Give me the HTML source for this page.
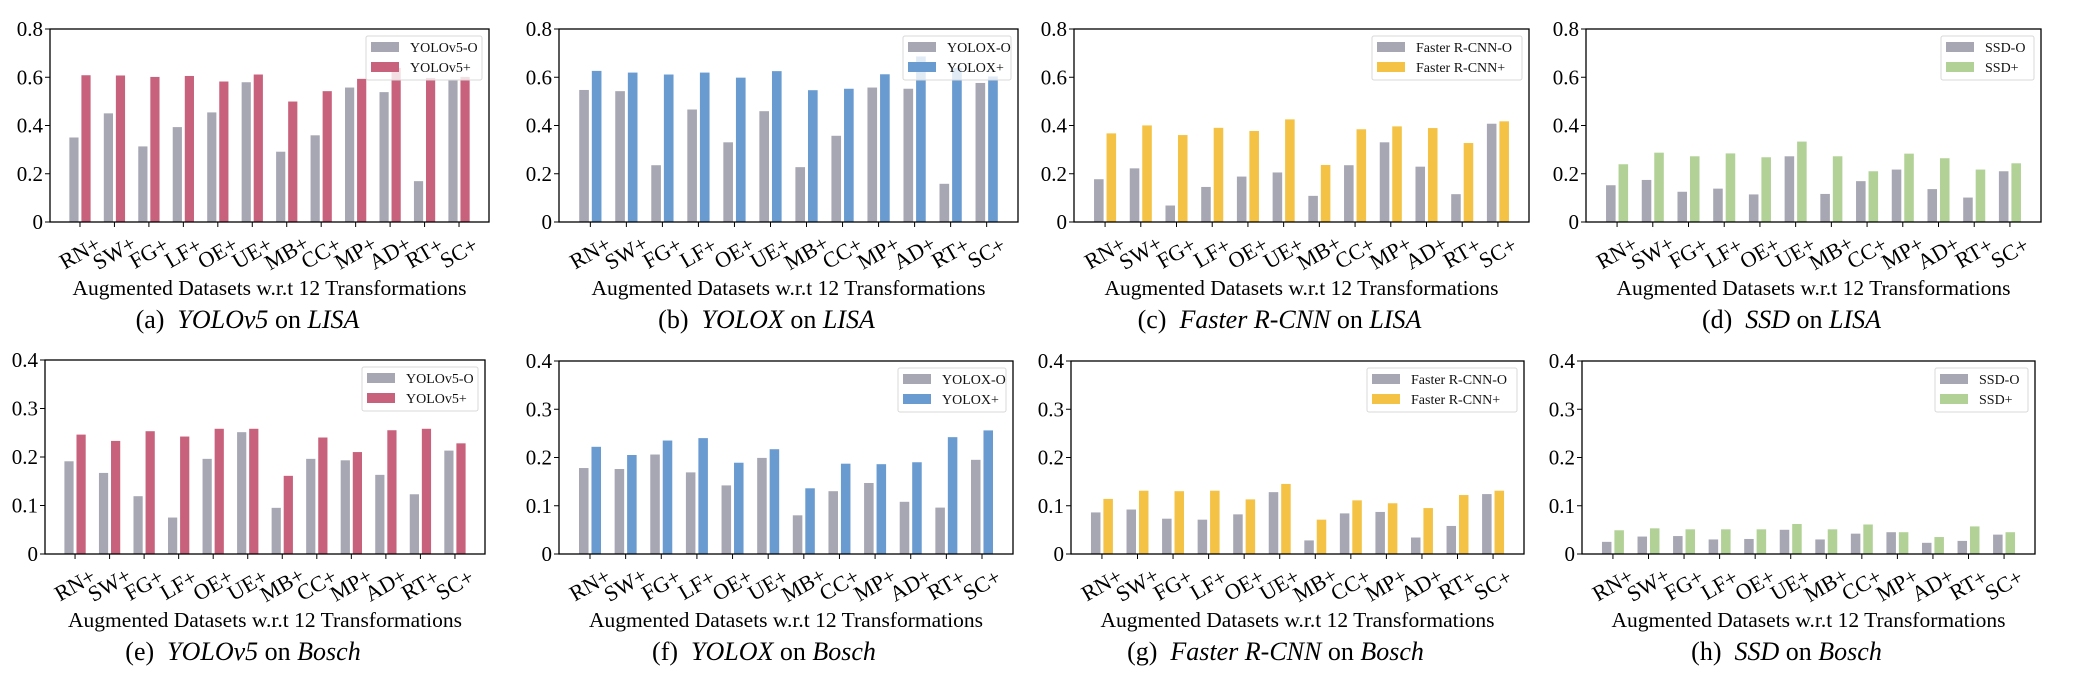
<!DOCTYPE html>
<html><head><meta charset="utf-8">
<style>
html,body{margin:0;padding:0;background:#fff;}
svg{display:block;font-family:"Liberation Serif","DejaVu Serif",serif;}
</style></head>
<body>
<svg id="fig" width="2074" height="674" viewBox="0 0 2074 674"></svg>
<script>
const categories = ["RN+","SW+","FG+","LF+","OE+","UE+","MB+","CC+","MP+","AD+","RT+","SC+"];
const yTicksTop = [0,0.2,0.4,0.6,0.8];
const yTickLabelsTop = ["0","0.2","0.4","0.6","0.8"];
const yTicksBot = [0,0.1,0.2,0.3,0.4];
const yTickLabelsBot = ["0","0.1","0.2","0.3","0.4"];

const aOrig = [0.352,0.452,0.315,0.395,0.456,0.581,0.293,0.361,0.559,0.540,0.171,0.588];
const aPlus = [0.610,0.609,0.603,0.607,0.584,0.613,0.501,0.544,0.595,0.640,0.599,0.603];
const bOrig = [0.549,0.544,0.237,0.468,0.332,0.461,0.229,0.359,0.559,0.554,0.160,0.578];
const bPlus = [0.628,0.621,0.613,0.621,0.600,0.627,0.548,0.554,0.614,0.688,0.640,0.605];
const cOrig = [0.179,0.224,0.070,0.147,0.190,0.207,0.110,0.237,0.332,0.231,0.117,0.409];
const cPlus = [0.369,0.402,0.362,0.392,0.379,0.427,0.238,0.386,0.398,0.391,0.329,0.419];
const dOrig = [0.154,0.176,0.127,0.140,0.116,0.274,0.118,0.171,0.219,0.138,0.103,0.212];
const dPlus = [0.241,0.289,0.274,0.286,0.270,0.335,0.274,0.212,0.285,0.266,0.219,0.245];
const eOrig = [0.192,0.168,0.120,0.076,0.197,0.252,0.096,0.197,0.194,0.164,0.124,0.214];
const ePlus = [0.247,0.234,0.254,0.243,0.259,0.259,0.162,0.241,0.211,0.256,0.259,0.229];
const fOrig = [0.179,0.177,0.207,0.170,0.143,0.200,0.081,0.131,0.148,0.109,0.097,0.196];
const fPlus = [0.223,0.206,0.236,0.241,0.190,0.218,0.137,0.188,0.187,0.191,0.243,0.257];
const gOrig = [0.087,0.093,0.074,0.072,0.083,0.129,0.029,0.085,0.088,0.035,0.059,0.125];
const gPlus = [0.115,0.132,0.131,0.132,0.114,0.146,0.072,0.112,0.106,0.096,0.123,0.132];
const hOrig = [0.026,0.037,0.038,0.031,0.032,0.051,0.031,0.043,0.046,0.024,0.028,0.041];
const hPlus = [0.050,0.054,0.052,0.052,0.052,0.063,0.052,0.062,0.046,0.036,0.058,0.046];

const GREY = "#a7a7b4";
const NS = "http://www.w3.org/2000/svg";
const svg = document.getElementById("fig");

function mk(tag, attrs, parent){
  const e = document.createElementNS(NS, tag);
  for (const k in attrs) e.setAttribute(k, attrs[k]);
  (parent||svg).appendChild(e);
  return e;
}

const panels = [
  {id:"a",x0:50,x1:489,y0:29,y1:222,orig:aOrig,plus:aPlus,color:"#c8617b",names:["YOLOv5-O","YOLOv5+"],lw:116,model:"YOLOv5",ds:"LISA",top:true},
  {id:"b",x0:559,x1:1018,y0:29,y1:222,orig:bOrig,plus:bPlus,color:"#6a9bd0",names:["YOLOX-O","YOLOX+"],lw:108,model:"YOLOX",ds:"LISA",top:true},
  {id:"c",x0:1074,x1:1529,y0:29,y1:222,orig:cOrig,plus:cPlus,color:"#f4c244",names:["Faster R-CNN-O","Faster R-CNN+"],lw:150,model:"Faster R-CNN",ds:"LISA",top:true},
  {id:"d",x0:1586,x1:2041,y0:29,y1:222,orig:dOrig,plus:dPlus,color:"#b2d197",names:["SSD-O","SSD+"],lw:93,model:"SSD",ds:"LISA",top:true},
  {id:"e",x0:45,x1:485,y0:360,y1:554,orig:eOrig,plus:ePlus,color:"#c8617b",names:["YOLOv5-O","YOLOv5+"],lw:116,model:"YOLOv5",ds:"Bosch",top:false},
  {id:"f",x0:559,x1:1013,y0:361,y1:554,orig:fOrig,plus:fPlus,color:"#6a9bd0",names:["YOLOX-O","YOLOX+"],lw:108,model:"YOLOX",ds:"Bosch",top:false},
  {id:"g",x0:1071,x1:1524,y0:361,y1:554,orig:gOrig,plus:gPlus,color:"#f4c244",names:["Faster R-CNN-O","Faster R-CNN+"],lw:150,model:"Faster R-CNN",ds:"Bosch",top:false},
  {id:"h",x0:1582,x1:2035,y0:361,y1:554,orig:hOrig,plus:hPlus,color:"#b2d197",names:["SSD-O","SSD+"],lw:93,model:"SSD",ds:"Bosch",top:false}
];

panels.forEach(p => {
  const g = mk("g", {});
  
  
  const ticks = p.top ? yTicksTop : yTicksBot;
  const tickLabels = p.top ? yTickLabelsTop : yTickLabelsBot;
  const ymax = ticks[ticks.length-1];
  const n = categories.length;
  const pad = 0.87;
  const xs = i => p.x0 + (i + pad) / (n - 1 + 2*pad) * (p.x1 - p.x0);
  const ys = v => p.y1 - v / ymax * (p.y1 - p.y0);
  const step = (p.x1 - p.x0) / (n - 1 + 2*pad);
  const bw = step * 0.29, off = step * 0.175;

  p.orig.forEach((v,i) => {
    const r = mk("rect", {x:xs(i)-off-bw/2, y:ys(v), width:bw, height:ys(0)-ys(v), fill:GREY, stroke:"#fff", "stroke-width":0.8}, g);
    
    
  });
  p.plus.forEach((v,i) => {
    const r = mk("rect", {x:xs(i)+off-bw/2, y:ys(v), width:bw, height:ys(0)-ys(v), fill:p.color, stroke:"#fff", "stroke-width":0.8}, g);
    
    
  });

  const lx = p.x1 - 7 - p.lw, ly = p.y0 + 7;
  const lg = mk("g", {}, g);
  
  
  mk("rect", {x:lx, y:ly, width:p.lw, height:44, rx:2, fill:"rgba(255,255,255,0.8)", stroke:"#d8d8d8", "stroke-width":1}, lg);
  [GREY, p.color].forEach((c,k) => {
    const sw = mk("rect", {x:lx+5, y:ly+6+k*20, width:28, height:10, fill:c}, lg);
    
    
    const t = mk("text", {x:lx+44, y:ly+16+k*20, "font-size":14, fill:"#111"}, lg);
    t.textContent = p.names[k];
    
    
  });

  const fr = mk("rect", {x:p.x0, y:p.y0, width:p.x1-p.x0, height:p.y1-p.y0, fill:"none", stroke:"#000", "stroke-width":1.3}, g);
  
  

  ticks.forEach((t,k) => {
    mk("line", {x1:p.x0-5, x2:p.x0, y1:ys(t), y2:ys(t), stroke:"#000", "stroke-width":1}, g);
    const tl = mk("text", {x:p.x0-7, y:ys(t)+7, "font-size":21, "text-anchor":"end", fill:"#000"}, g);
    tl.textContent = tickLabels[k];
    
    
  });

  categories.forEach((c,i) => {
    mk("line", {x1:xs(i), x2:xs(i), y1:p.y1, y2:p.y1+5, stroke:"#000", "stroke-width":1}, g);
    const cx = xs(i), cy = p.y1 + 31;
    const tl = mk("text", {x:cx, y:cy+7, "font-size":22, "text-anchor":"middle", transform:"rotate(-30 " + cx + " " + cy + ")", fill:"#000"}, g);
    tl.textContent = c;
    
    
  });

  const mid = (p.x0 + p.x1) / 2;
  const xt = mk("text", {x:mid, y:p.y1+73, "font-size":21.5, "text-anchor":"middle", fill:"#000"}, g);
  xt.textContent = "Augmented Datasets w.r.t 12 Transformations";
  
  

  const cap = mk("text", {x:mid-22, y:p.y1+106, "font-size":26, "text-anchor":"middle", fill:"#000"}, g);
  
  
  const s1 = mk("tspan", {}, cap); s1.textContent = "(" + p.id + ")\u00a0\u00a0";
  const s2 = mk("tspan", {"font-style":"italic"}, cap); s2.textContent = p.model;
  const s3 = mk("tspan", {}, cap); s3.textContent = " on ";
  const s4 = mk("tspan", {"font-style":"italic"}, cap); s4.textContent = p.ds;
});
</script>
</body></html>
